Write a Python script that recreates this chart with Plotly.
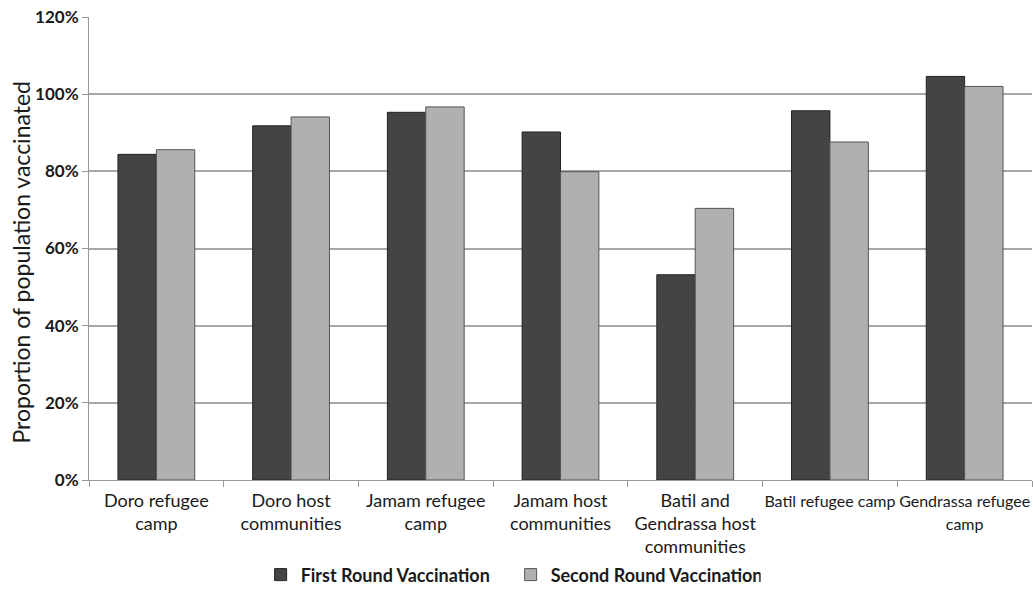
import plotly.graph_objects as go

categories = [
    "Doro refugee camp",
    "Doro host communities",
    "Jamam refugee camp",
    "Jamam host communities",
    "Batil and Gendrassa host communities",
    "Batil refugee camp",
    "Gendrassa refugee camp",
]
tick_labels = [
    "Doro refugee<br>camp",
    "Doro host<br>communities",
    "Jamam refugee<br>camp",
    "Jamam host<br>communities",
    "Batil and<br>Gendrassa host<br>communities",
    "<span style='font-size:16px'>Batil refugee camp</span>",
    "<span style='font-size:16px'>Gendrassa refugee</span><br>"
    "<span style='font-size:16px'>camp</span>",
]
first_round = [0.844, 0.918, 0.953, 0.902, 0.532, 0.957, 1.046]
second_round = [0.856, 0.941, 0.967, 0.799, 0.704, 0.876, 1.020]
y_title = "Proportion of population vaccinated"

font_family = "Lato, 'Open Sans', sans-serif"

fig = go.Figure()
fig.add_trace(go.Bar(
    name="First Round Vaccination",
    x=categories, y=first_round,
    marker=dict(color="#444444", line=dict(color="#222222", width=1)),
))
fig.add_trace(go.Bar(
    name="Second Round Vaccination",
    x=categories, y=second_round,
    marker=dict(color="#b0b0b0", line=dict(color="#555555", width=1)),
))

fig.update_layout(
    width=1033, height=595,
    margin=dict(l=89, r=1, t=17, b=112),
    paper_bgcolor="white", plot_bgcolor="white",
    barmode="group", bargap=0.43, bargroupgap=0,
    font=dict(family=font_family, color="#1a1a1a"),
    showlegend=True,
    legend=dict(
        orientation="h", x=0.182, xanchor="left", y=-0.205, yanchor="middle",
        font=dict(size=18, family=font_family, weight="bold", color="#1a1a1a"),
        itemwidth=30, traceorder="normal", entrywidth=205,
    ),
)
# rotated axis title, placed as an annotation so it can sit slightly below centre
fig.add_annotation(
    text=y_title, textangle=-90, xref="paper", yref="paper",
    x=-0.072, y=0.47, xanchor="center", yanchor="middle", showarrow=False,
    font=dict(size=23, family=font_family, color="#1a1a1a"),
)
fig.update_xaxes(
    type="category", tickson="boundaries", ticks="outside", ticklen=6,
    tickcolor="#999999", showline=True, linecolor="#999999", linewidth=1,
    tickmode="array", tickvals=categories, ticktext=tick_labels,
    tickfont=dict(size=18, family=font_family, color="#1a1a1a"),
    ticklabelstandoff=4,
    showgrid=False, automargin=False, tickangle=0,
)
fig.update_yaxes(
    range=[0, 1.2], dtick=0.2, tickformat=".0%",
    showgrid=True, gridcolor="#a8a8a8", gridwidth=1.5,
    showline=True, linecolor="#999999", linewidth=1,
    ticks="outside", ticklen=6, tickcolor="#999999",
    tickfont=dict(size=17, family=font_family, weight="bold", color="#1a1a1a"),
    automargin=False, zeroline=False,
)

fig.write_html("out.html")
